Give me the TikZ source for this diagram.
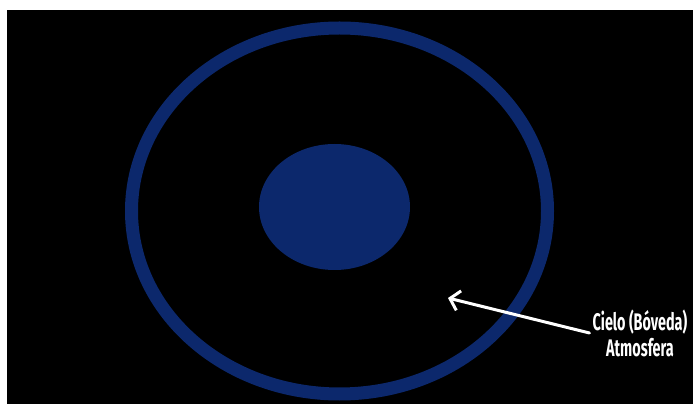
\documentclass[tikz,border=0pt]{standalone}
\usepackage{fontspec}
\usepackage{xcolor}
\usepackage{tikz}
\usetikzlibrary{arrows.meta,positioning}
\newfontfamily\labelfont{Fira Sans}[FakeStretch=0.6]
\definecolor{domeblue}{RGB}{12,40,108}

\begin{document}
\begin{tikzpicture}[
  x=1pt, y=1pt,
  ring/.style={draw=domeblue, line width=13pt},
  core/.style={fill=domeblue, draw=none},
  tag/.style={text=white, align=center, inner sep=3pt, font=\labelfont\bfseries\fontsize{24}{26}\selectfont},
  pointer/.style={{Straight Barb[length=9pt, width=20pt]}-, white, line width=3pt, line cap=round}
]
\fill[white] (0,0) rectangle (693,404);
\fill[black] (7,0) rectangle (693,394);
\useasboundingbox (0,0) rectangle (693,404);

\draw[ring] (339.5,193) ellipse [x radius=208, y radius=183];
\fill[core] (334.5,197) ellipse [x radius=75.5, y radius=63];

\node[tag] (sky) at (640,71) {Cielo (Bóveda)\\Atmosfera};
\coordinate (tip) at (448,106);
\draw[pointer] (tip) -- (sky.west);
\end{tikzpicture}
\end{document}
